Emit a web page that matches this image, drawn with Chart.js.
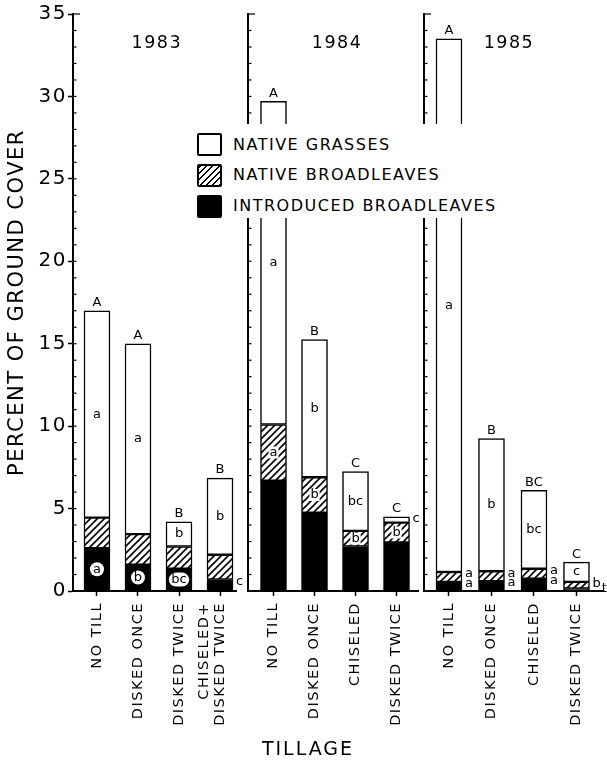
<!DOCTYPE html>
<html>
<head>
<meta charset="utf-8">
<script src="https://cdn.jsdelivr.net/npm/chart.js@4.4.1/dist/chart.umd.min.js"></script>
<style>
  body { margin: 0; background: #fff; }
  #wrap { position: relative; width: 607px; height: 780px; font-family: "DejaVu Sans", sans-serif; color: #000; }
  #wrap canvas { position: absolute; left: 0; top: 0; }
  #legend { position: absolute; left: 195px; top: 124px; width: 306px; height: 94px; background: #fff; }
  .key { position: absolute; left: 2px; width: 21px; height: 19px; border: 2px solid #000; border-radius: 2px; box-sizing: content-box; }
  .lab { position: absolute; left: 38px; font-size: 16px; letter-spacing: 1.5px; line-height: 20px; white-space: nowrap; }
  #xtitle { position: absolute; left: 308px; top: 736px; transform: translateX(-50%); font-size: 19px; letter-spacing: 2px; line-height: 24px; }
</style>
</head>
<body>
<div id="wrap">
  <canvas id="c1983" width="607" height="780"></canvas>
  <canvas id="c1984" width="607" height="780"></canvas>
  <canvas id="c1985" width="607" height="780"></canvas>
  <div id="legend">
    <div class="key" style="top:9px;background:#fff"></div>
    <div class="lab" style="top:11px">NATIVE GRASSES</div>
    <div class="key" style="top:40px;background:repeating-linear-gradient(135deg,#000 0 1.5px,#fff 1.5px 4.5px)"></div>
    <div class="lab" style="top:41px">NATIVE BROADLEAVES</div>
    <div class="key" style="top:71px;background:#000"></div>
    <div class="lab" style="top:72px">INTRODUCED BROADLEAVES</div>
  </div>
  <div id="xtitle">TILLAGE</div>
</div>
<script>
// tillage treatments per year
const categories1983 = ['NO TILL', 'DISKED ONCE', 'DISKED TWICE', ['CHISELED+', 'DISKED TWICE']];
const categories1984 = ['NO TILL', 'DISKED ONCE', 'CHISELED', 'DISKED TWICE'];
const categories1985 = ['NO TILL', 'DISKED ONCE', 'CHISELED', 'DISKED TWICE'];

// percent ground cover, stacked bottom to top
const introduced1983 = [2.6, 1.6, 1.35, 0.7];
const nativeBroad1983 = [1.85, 1.85, 1.35, 1.5];
const nativeGrass1983 = [12.55, 11.55, 1.5, 4.65];

const introduced1984 = [6.7, 4.75, 2.7, 2.95];
const nativeBroad1984 = [3.4, 2.15, 0.95, 1.2];
const nativeGrass1984 = [19.6, 8.35, 3.6, 0.35];

const introduced1985 = [0.55, 0.6, 0.75, 0.15];
const nativeBroad1985 = [0.6, 0.6, 0.6, 0.4];
const nativeGrass1985 = [32.35, 8.05, 4.75, 1.2];

const yTicks = [0, 5, 10, 15, 20, 25, 30, 35];

// mean separation letters (inside a segment / beside it)
const totalLetters1983 = ['A', 'A', 'B', 'B'];
const grassIn1983 = ['a', 'a', 'b', 'b'];
const grassSide1983 = ['', '', '', ''];
const broadIn1983 = ['', '', '', ''];
const broadSide1983 = ['', '', '', ''];
const introIn1983 = ['a', 'b', 'bc', ''];
const introSide1983 = ['', '', '', 'c'];

const totalLetters1984 = ['A', 'B', 'C', 'C'];
const grassIn1984 = ['a', 'b', 'bc', ''];
const grassSide1984 = ['', '', '', 'c'];
const broadIn1984 = ['a', 'b', 'b', 'b'];
const broadSide1984 = ['', '', '', ''];
const introIn1984 = ['', '', '', ''];
const introSide1984 = ['', '', '', ''];

const totalLetters1985 = ['A', 'B', 'BC', 'C'];
const grassIn1985 = ['a', 'b', 'bc', 'c'];
const grassSide1985 = ['', '', '', ''];
const broadIn1985 = ['', '', '', ''];
const broadSide1985 = ['a', 'a', 'a', 'b'];
const introIn1985 = ['', '', '', ''];
const introSide1985 = ['a', 'a', 'a', 't'];

const FONT = '"DejaVu Sans", sans-serif';
Chart.defaults.font.family = FONT;
Chart.defaults.color = '#000';

const panels = [
  { id: 'c1983', year: '1983', cats: categories1983, intro: introduced1983, broad: nativeBroad1983, grass: nativeGrass1983,
    top: totalLetters1983, grassIn: grassIn1983, grassSide: grassSide1983, broadIn: broadIn1983, broadSide: broadSide1983,
    introIn: introIn1983, introSide: introSide1983,
    left: 73, right: 236, xMin: -0.585, xMax: 3.39, yearAt: 1.46, showY: true },
  { id: 'c1984', year: '1984', cats: categories1984, intro: introduced1984, broad: nativeBroad1984, grass: nativeGrass1984,
    top: totalLetters1984, grassIn: grassIn1984, grassSide: grassSide1984, broadIn: broadIn1984, broadSide: broadSide1984,
    introIn: introIn1984, introSide: introSide1984,
    left: 248, right: 418, xMin: -0.622, xMax: 3.524, yearAt: 1.55, showY: false },
  { id: 'c1985', year: '1985', cats: categories1985, intro: introduced1985, broad: nativeBroad1985, grass: nativeGrass1985,
    top: totalLetters1985, grassIn: grassIn1985, grassSide: grassSide1985, broadIn: broadIn1985, broadSide: broadSide1985,
    introIn: introIn1985, introSide: introSide1985,
    left: 424, right: 603, xMin: -0.588, xMax: 3.624, yearAt: 1.41, showY: false },
];

function hatchPattern() {
  const t = document.createElement('canvas');
  t.width = t.height = 7;
  const g = t.getContext('2d');
  g.fillStyle = '#fff';
  g.fillRect(0, 0, 7, 7);
  g.strokeStyle = '#000';
  g.lineWidth = 1.6;
  g.beginPath();
  g.moveTo(-1, 1); g.lineTo(1, -1);
  g.moveTo(-1, 8); g.lineTo(8, -1);
  g.moveTo(6, 8); g.lineTo(8, 6);
  g.stroke();
  return g.createPattern(t, 'repeat');
}
const hatch = hatchPattern();

const spacing = {
  id: 'spacing',
  beforeLayout(chart) { chart.ctx.letterSpacing = '1.5px'; },
  beforeDraw(chart) {
    chart.ctx.letterSpacing = '1.5px';
    // two-line rotated label: keep its last line on the tick, like the original
    chart.scales.x.getLabelItems().forEach(it => {
      if (Array.isArray(it.label) && !it._moved) {
        it.options.translation[0] -= (it.label.length - 1) * it.font.lineHeight;
        it._moved = true;
      }
    });
  },
};

function tag(ctx, text, x, y, kind) {
  const w = ctx.measureText(text).width;
  if (kind === 'knock') {
    const bw = Math.max(w + 5, 14), bh = 14;
    ctx.fillStyle = '#fff';
    ctx.beginPath();
    ctx.roundRect(x - bw / 2, y - bh / 2, bw, bh, 7);
    ctx.fill();
  } else if (kind === 'box') {
    ctx.fillStyle = '#fff';
    ctx.fillRect(x - w / 2 - 1, y - 6, w + 2, 12);
  }
  ctx.fillStyle = '#000';
  ctx.textAlign = 'center';
  ctx.fillText(text, x, y);
}

function lettersPlugin(p) {
  return {
    id: 'letters',
    afterDatasetsDraw(chart) {
      const ctx = chart.ctx;
      const segs = [0, 1, 2].map(d => chart.getDatasetMeta(d).data);
      const inner = [p.introIn, p.broadIn, p.grassIn];
      const side = [p.introSide, p.broadSide, p.grassSide];
      const kind = ['knock', 'box', 'plain'];
      ctx.save();
      ctx.letterSpacing = '0px';
      ctx.font = '13px ' + FONT;
      ctx.textBaseline = 'middle';
      p.cats.forEach((_, i) => {
        const t = segs[2][i];
        ctx.fillStyle = '#000';
        ctx.textAlign = 'center';
        ctx.fillText(p.top[i], t.x, t.y - 8);
        let prev = null;
        [2, 1, 0].forEach(s => {
          const el = segs[s][i];
          const mid = (el.y + el.base) / 2;
          if (inner[s][i]) tag(ctx, inner[s][i], el.x, mid, kind[s]);
          if (side[s][i]) {
            let sx = el.x + el.width / 2 + 3, sy = el.y + 2;
            if (prev && sy - prev.y < 8) { sx = prev.x + prev.w + 1; sy = prev.y + 5; }
            ctx.fillStyle = '#000';
            ctx.textAlign = 'left';
            ctx.fillText(side[s][i], sx, sy);
            prev = { x: sx, y: sy, w: ctx.measureText(side[s][i]).width };
          }
        });
      });
      ctx.restore();
    },
    afterDraw(chart) {
      const ctx = chart.ctx;
      const ys = chart.scales.y, xs = chart.scales.x;
      const left = chart.chartArea.left;
      ctx.save();
      // inward minor ticks on each unit
      ctx.strokeStyle = '#000';
      ctx.lineWidth = 1.2;
      for (let v = 1; v <= 35; v++) {
        const py = ys.getPixelForValue(v);
        ctx.beginPath();
        ctx.moveTo(left, py);
        ctx.lineTo(left + (v === 35 ? 7 : 3.5), py);
        ctx.stroke();
      }
      // year caption
      ctx.font = '17.5px ' + FONT;
      ctx.fillStyle = '#000';
      ctx.textAlign = 'center';
      ctx.textBaseline = 'middle';
      ctx.fillText(p.year, xs.getPixelForValue(p.yearAt), ys.getPixelForValue(33.2));
      ctx.restore();
    },
  };
}

panels.forEach(p => {
  const common = { borderColor: '#000', borderWidth: 1.5, borderSkipped: false, barThickness: 26 };
  new Chart(document.getElementById(p.id), {
    type: 'bar',
    data: {
      datasets: [
        { label: 'INTRODUCED BROADLEAVES', data: p.intro.map((v, i) => ({ x: i, y: v })), backgroundColor: '#000', ...common },
        { label: 'NATIVE BROADLEAVES', data: p.broad.map((v, i) => ({ x: i, y: v })), backgroundColor: hatch, ...common },
        { label: 'NATIVE GRASSES', data: p.grass.map((v, i) => ({ x: i, y: v })), backgroundColor: '#fff', ...common },
      ],
    },
    options: {
      responsive: false,
      animation: false,
      events: [],
      layout: { padding: { left: p.showY ? 0 : p.left - 8, right: 607 - p.right, top: 14, bottom: 9 } },
      plugins: { legend: { display: false }, tooltip: { enabled: false } },
      scales: {
        x: {
          type: 'linear', bounds: 'data', min: p.xMin, max: p.xMax, stacked: true, offset: false,
          afterBuildTicks: (s) => { s.ticks = p.cats.map((_, i) => ({ value: i })); },
          afterFit: (s) => { s.height = 180; },
          grid: { offset: false, drawOnChartArea: false, color: '#000', tickLength: 5, tickWidth: 1.5 },
          border: { color: '#000', width: 2 },
          ticks: {
            autoSkip: false, minRotation: 90, maxRotation: 90, padding: 6, color: '#000',
            font: { size: 14.5, lineHeight: 1.1 },
            callback: (v) => p.cats[v],
          },
        },
        y: {
          min: 0, max: 35, bounds: 'data', stacked: true,
          afterBuildTicks: (s) => { s.ticks = yTicks.map(v => ({ value: v })); },
          afterFit: (s) => { s.width = p.showY ? 73 : 8; },
          grid: { drawOnChartArea: false, drawTicks: p.showY, color: '#000', tickLength: 5, tickWidth: 1.5 },
          border: { color: '#000', width: 2 },
          ticks: { display: p.showY, padding: 1, color: '#000', font: { size: 20 } },
          title: { display: p.showY, text: 'PERCENT OF GROUND COVER', color: '#000', font: { size: 21 }, padding: { top: 5, bottom: 0 } },
        },
      },
    },
    plugins: [spacing, lettersPlugin(p)],
  });
});
</script>
</body>
</html>
